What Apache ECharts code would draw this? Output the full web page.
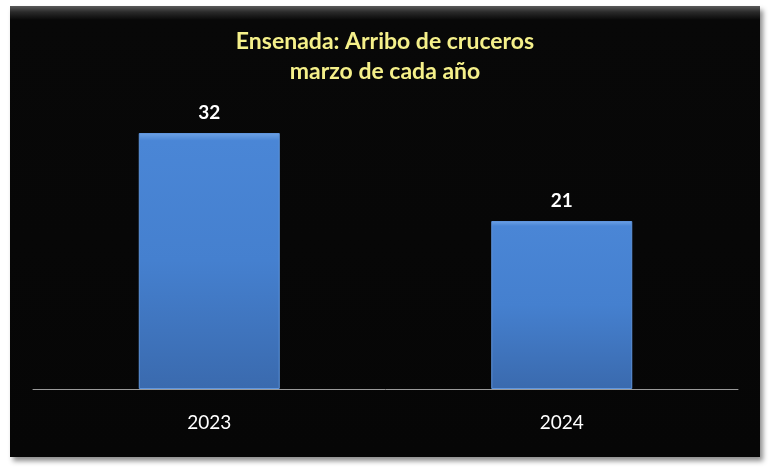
<!DOCTYPE html>
<html>
<head>
<meta charset="utf-8">
<script src="https://cdn.jsdelivr.net/npm/echarts@6/dist/echarts.min.js"></script>
<style>
  html, body { margin: 0; padding: 0; background: #ffffff; }
  #panel {
    position: absolute; left: 10px; top: 6px; width: 750px; height: 451px;
    background: linear-gradient(to bottom, #5a5a5a 0px, #2a2a2a 6px, #080808 14px, #060606 100%);
    box-shadow: 3px 4px 5px rgba(0,0,0,0.45);
  }
  #chart { position: absolute; left: 0; top: 0; width: 770px; height: 470px; }
</style>
</head>
<body>
<div id="panel"></div>
<div id="chart"></div>
<script>
const years = ['2023', '2024'];
const arrivals = [32, 21];

const chart = echarts.init(document.getElementById('chart'));
chart.setOption({
  backgroundColor: 'transparent',
  animation: false,
  title: {
    text: 'Ensenada: Arribo de cruceros\nmarzo de cada año',
    left: 'center',
    top: 22,
    textStyle: {
      color: '#f5f08a',
      fontFamily: 'Lato',
      fontWeight: 'bold',
      fontSize: 23,
      lineHeight: 30
    }
  },
  grid: { left: 33, right: 32, top: 69, bottom: 81 },
  xAxis: {
    type: 'category',
    data: years,
    axisLine: { lineStyle: { color: '#9a9a9a', width: 1 } },
    axisTick: { show: false },
    axisLabel: {
      color: '#ffffff',
      fontFamily: 'Lato',
      fontSize: 19,
      margin: 24
    }
  },
  yAxis: {
    type: 'value',
    min: 0,
    max: 40,
    show: false,
    splitLine: { show: false }
  },
  series: [{
    type: 'bar',
    data: arrivals,
    barWidth: '40%',
    itemStyle: {
      color: new echarts.graphic.LinearGradient(0, 0, 0, 1, [
        { offset: 0, color: '#6da2e6' },
        { offset: 0.03, color: '#4a86d6' },
        { offset: 0.5, color: '#4580cf' },
        { offset: 1, color: '#3a6aae' }
      ]),
      borderColor: '#5f95dd',
      borderWidth: 1
    },
    label: {
      show: true,
      position: 'top',
      distance: 11,
      color: '#ffffff',
      fontFamily: 'Lato',
      fontWeight: 'bold',
      fontSize: 19
    }
  }]
});
</script>
</body>
</html>
